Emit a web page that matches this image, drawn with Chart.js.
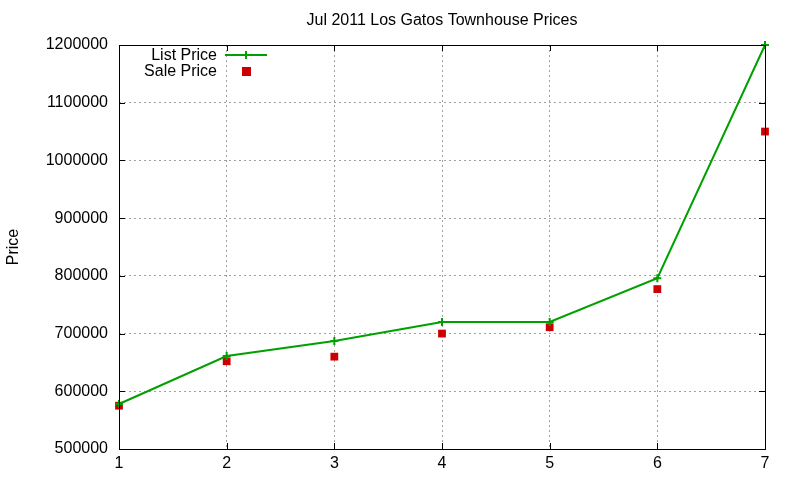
<!DOCTYPE html>
<html>
<head>
<meta charset="utf-8">
<script src="https://cdn.jsdelivr.net/npm/chart.js@4/dist/chart.umd.min.js"></script>
<style>
  body { margin: 0; background: #fff; }
  canvas { display: block; }
</style>
</head>
<body>
<canvas id="priceChart" width="800" height="480"></canvas>
<script>
// data
const units = [1, 2, 3, 4, 5, 6, 7];
const listPrice = [578000, 661000, 687000, 720000, 720000, 796000, 1200000];
const salePrice = [575000, 652000, 660000, 700000, 711000, 777000, 1050000];
const chartTitle = "Jul 2011 Los Gatos Townhouse Prices";

const FONT = "'Liberation Sans', Arial, sans-serif";
const GREEN = "#00a000";
const RED = "#cc0000";

// title, frame, inward tick marks and the legend, gnuplot style
const gnuplotBits = {
    id: "gnuplotBits",
    afterDraw(chart) {
        let ctx = chart.ctx;
        let a = chart.chartArea;
        let xs = chart.scales.x, ys = chart.scales.y;
        ctx.save();

        ctx.fillStyle = "#000";
        ctx.font = "16px " + FONT;
        ctx.textAlign = "center";
        ctx.textBaseline = "middle";
        ctx.fillText(chartTitle, (a.left + a.right) / 2, 21);

        ctx.strokeStyle = "#000";
        ctx.lineWidth = 1;
        ctx.strokeRect(a.left + 0.5, a.top + 0.5, a.right - a.left, a.bottom - a.top);

        ctx.beginPath();
        xs.ticks.forEach(t => {
            let x = Math.round(xs.getPixelForValue(t.value)) + 0.5;
            ctx.moveTo(x, a.bottom); ctx.lineTo(x, a.bottom - 6);
            ctx.moveTo(x, a.top); ctx.lineTo(x, a.top + 6);
        });
        ys.ticks.forEach(t => {
            let y = Math.round(ys.getPixelForValue(t.value)) + 0.5;
            ctx.moveTo(a.left, y); ctx.lineTo(a.left + 6, y);
            ctx.moveTo(a.right, y); ctx.lineTo(a.right - 6, y);
        });
        ctx.stroke();

        // legend
        ctx.font = "16px " + FONT;
        ctx.textAlign = "right";
        ctx.fillStyle = "#000";
        ctx.fillText("List Price", 217, 56);
        ctx.fillText("Sale Price", 217, 72);
        ctx.strokeStyle = GREEN;
        ctx.lineWidth = 2;
        ctx.beginPath();
        ctx.moveTo(225, 55); ctx.lineTo(267, 55);
        ctx.moveTo(246, 51); ctx.lineTo(246, 59);
        ctx.stroke();
        ctx.fillStyle = RED;
        ctx.fillRect(242, 67, 9, 9);

        ctx.restore();
    }
};

new Chart(document.getElementById("priceChart").getContext("2d"), {
    type: "line",
    data: {
        datasets: [{
            label: "List Price",
            data: units.map((u, i) => ({ x: u, y: listPrice[i] })),
            borderColor: GREEN,
            backgroundColor: GREEN,
            borderWidth: 2,
            pointStyle: "cross",
            pointRadius: 4,
            pointBorderWidth: 2,
            fill: false,
            tension: 0
        }, {
            label: "Sale Price",
            data: units.map((u, i) => ({ x: u, y: salePrice[i] })),
            showLine: false,
            backgroundColor: RED,
            borderColor: RED,
            pointStyle: "rect",
            pointRadius: 5.5,
            pointBorderWidth: 0
        }]
    },
    options: {
        responsive: false,
        animation: false,
        clip: false,
        layout: { padding: { top: 45, right: 35, left: 4, bottom: 0 } },
        plugins: {
            legend: { display: false },
            tooltip: { enabled: false }
        },
        scales: {
            x: {
                type: "linear",
                min: 1,
                max: 7,
                afterFit: s => { s.height = 31; },
                border: { display: false, dash: [2, 3] },
                grid: { color: "#a0a0a0", tickLength: 0, lineWidth: 1 },
                ticks: { stepSize: 1, color: "#000", padding: 5, font: { family: FONT, size: 16 } }
            },
            y: {
                min: 500000,
                max: 1200000,
                afterFit: s => { s.width = 115; },
                border: { display: false, dash: [2, 3] },
                grid: { color: "#a0a0a0", tickLength: 0, lineWidth: 1 },
                ticks: {
                    stepSize: 100000, color: "#000", padding: 11,
                    font: { family: FONT, size: 16 },
                    callback: v => String(v)
                },
                title: { display: true, text: "Price", color: "#000", padding: 0, font: { family: FONT, size: 16 } }
            }
        }
    },
    plugins: [gnuplotBits]
});
</script>
</body>
</html>
